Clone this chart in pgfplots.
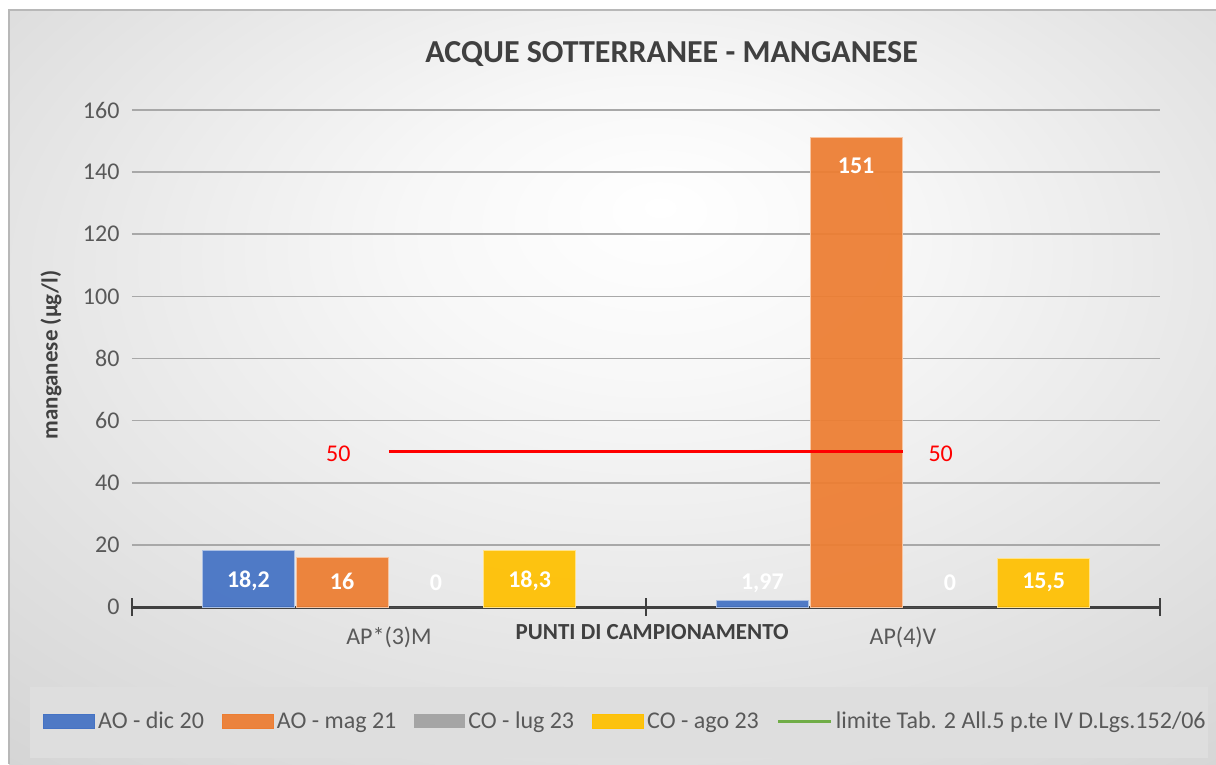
\documentclass[border=0pt]{standalone}
\usepackage{pgfplots}
\pgfplotsset{compat=1.18}
\usepackage{pgfplotstable}
\usepackage{fontspec}
\setmainfont{Carlito}
\definecolor{cblue}{RGB}{68,114,196}
\definecolor{corange}{RGB}{237,125,49}
\definecolor{cgray}{RGB}{165,165,165}
\definecolor{cyellow}{RGB}{255,192,0}
\definecolor{cgreen}{RGB}{112,173,71}
\definecolor{txt}{RGB}{64,64,64}
\definecolor{tickc}{RGB}{89,89,89}
\definecolor{gridc}{RGB}{168,168,168}
\definecolor{limred}{RGB}{255,0,0}
\pgfdeclareradialshading{chartbg}{\pgfpoint{2bp}{12bp}}{color(0bp)=(white); color(10bp)=(white!97!black); color(45bp)=(white!81!black); color(65bp)=(white!77!black)}

\pgfplotstableread{
x y label
-0.2736 8.3 18,2
-0.0912 8.1 16
0.0912 7.9 0
0.2736 8.3 18,3
0.7264 7.7 1,97
0.9088 142 151
1.0912 7.7 0
1.2736 7.8 15,5
}\labeltab

\begin{document}
\begin{tikzpicture}[x=1pt,y=1pt]
\fill[white] (0,0) rectangle (1216,764);
\shade[shading=chartbg] (9,0) rectangle (1216,754);
\draw[color=white!72!black, line width=1.5] (9,0) -- (9,754) -- (1216,754);
\fill[white!87!black] (30,6) rectangle (1208,77);
\begin{axis}[
  at={(132pt,157pt)}, anchor=south west,
  scale only axis, width=1028pt, height=497pt,
  xmin=-0.5, xmax=1.5, ymin=0, ymax=160,
  axis line style={draw=none},
  ytick={20,40,...,160},
  extra y ticks={0},
  extra y tick style={grid style={draw=txt, line width=3pt}},
  ymajorgrids,
  grid style={draw=gridc, line width=1.5pt},
  ytick style={draw=none},
  yticklabel style={font=\fontsize{24}{28}\selectfont, text=tickc, /pgf/number format/assume math mode=true},
  xtick={-0.5,0.5,1.5}, xticklabels={},
  xtick pos=left, ytick pos=left,
  tick align=center,
  xtick style={draw=txt, line width=2.5pt},
  major tick length=18pt,
  extra x ticks={0,1}, extra x tick labels={AP*(3)M, AP(4)V},
  extra x tick style={major tick length=0pt, xticklabel style={anchor=center, yshift=-30pt}},
  xticklabel style={font=\fontsize{24}{28}\selectfont, text=tickc},
  title={ACQUE SOTTERRANEE - MANGANESE},
  title style={at={(axis description cs:0.525,1.1006)}, anchor=center, font=\bfseries\fontsize{32}{38}\selectfont, text=txt},
  ylabel={manganese (µg/l)},
  ylabel style={at={(axis description cs:-0.0788,0.507)}, anchor=center, font=\bfseries\fontsize{23}{27}\selectfont, text=txt},
  xlabel={PUNTI DI CAMPIONAMENTO},
  xlabel style={at={(axis description cs:0.506,0)}, anchor=center, yshift=-25pt, font=\bfseries\fontsize{23}{27}\selectfont, text=txt},
  legend columns=-1,
  legend cell align=left,
  legend style={at={(axis description cs:0.4805,-0.2294)}, anchor=center, draw=none, fill=none,
    font=\fontsize{24}{28}\selectfont, text=tickc,
    /tikz/every even column/.append style={column sep=15pt},
    nodes={inner xsep=3pt, inner ysep=0pt}},
]
\addplot[ybar, bar width=0.179, bar shift=-0.2736, fill=cblue, draw=cblue!45!white, line width=1pt, fill opacity=0.93,
  legend image code/.code={\fill[cblue] (0pt,-7pt) rectangle (51pt,7pt);}]
  coordinates {(0,18.2) (1,1.97)};
\addlegendentry{AO - dic 20}
\addplot[ybar, bar width=0.179, bar shift=-0.0912, fill=corange, draw=corange!45!white, line width=1pt, fill opacity=0.93,
  legend image code/.code={\fill[corange] (0pt,-7pt) rectangle (51pt,7pt);}]
  coordinates {(0,16) (1,151)};
\addlegendentry{AO - mag 21}
\addplot[ybar, bar width=0.179, bar shift=0.0912, fill=cgray, draw=none,
  legend image code/.code={\fill[cgray] (0pt,-7pt) rectangle (51pt,7pt);}]
  coordinates {(0,0) (1,0)};
\addlegendentry{CO - lug 23}
\addplot[ybar, bar width=0.179, bar shift=0.2736, fill=cyellow, draw=cyellow!45!white, line width=1pt, fill opacity=0.93,
  legend image code/.code={\fill[cyellow] (0pt,-7pt) rectangle (51pt,7pt);}]
  coordinates {(0,18.3) (1,15.5)};
\addlegendentry{CO - ago 23}
\addlegendimage{legend image code/.code={\draw[cgreen, line width=3pt] (0pt,0pt) -- (53pt,0pt);}}
\addlegendentry{limite Tab. 2 All.5 p.te IV D.Lgs.152/06}
\addplot[limred, line width=3.5pt, forget plot] coordinates {(0,50) (1,50)};
\addplot[draw=none, forget plot, nodes near coords={50},
  every node near coord/.append style={anchor=east, xshift=-35pt, yshift=-2pt, text=limred, font=\fontsize{24}{28}\selectfont}]
  coordinates {(0,50)};
\addplot[draw=none, forget plot, nodes near coords={50},
  every node near coord/.append style={anchor=west, xshift=22pt, yshift=-2pt, text=limred, font=\fontsize{24}{28}\selectfont}]
  coordinates {(1,50)};
\addplot[draw=none, forget plot, nodes near coords, point meta=explicit symbolic,
  every node near coord/.append style={anchor=center, text=white, font=\bfseries\fontsize{24}{28}\selectfont}]
  table[x=x, y=y, meta=label] {\labeltab};
\end{axis}
\pgfresetboundingbox
\useasboundingbox (0,0) rectangle (1216,764);
\end{tikzpicture}
\end{document}
